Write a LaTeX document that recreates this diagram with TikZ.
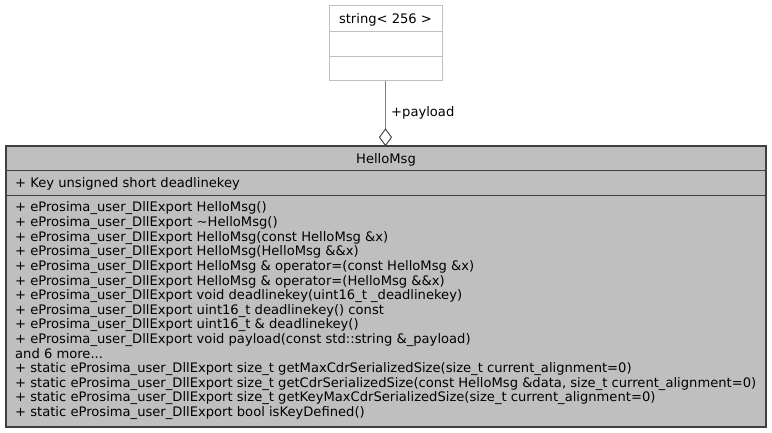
\documentclass[tikz,border=0pt]{standalone}
\usepackage{fontspec}
\setmainfont{DejaVu Sans}
\definecolor{mainfill}{HTML}{BFBFBF}
\definecolor{mainborder}{HTML}{404040}
\definecolor{lightborder}{HTML}{BFBFBF}
\definecolor{edgegray}{HTML}{808080}
\newlength\LL
\begin{document}
\settowidth\LL{\fontsize{10}{12}\selectfont + static eProsima\_user\_DllExport size\_t getCdrSerializedSize(const HelloMsg \&data, size\_t current\_alignment=0)}%
\pgfmathsetmacro\fs{7410/\LL}%
\begin{tikzpicture}[x=1pt,y=-1pt]
\tikzset{
  txt/.style={anchor=base west, inner sep=0pt, font=\fontsize{\fs}{\fs}\selectfont},
  ctxt/.style={anchor=base, inner sep=0pt, font=\fontsize{\fs}{\fs}\selectfont},
  topbox/.style={draw=lightborder, fill=white, line width=1pt},
  mainbox/.style={draw=mainborder, fill=mainfill, line width=1.2pt},
  sep/.style={draw=mainborder, line width=1pt},
  lsep/.style={draw=lightborder, line width=1pt},
}
\useasboundingbox (0,0) rectangle (772,433);
% top class box
\draw[topbox] (329,6) rectangle (442,81);
\coordinate (tb) at (385.5,81);
\draw[lsep] (329,32) -- (442,32);
\draw[lsep] (329,57) -- (442,57);
\node[ctxt] (str) at (385.5,23.5) {string< 256 >};
% main class box
\draw[mainbox] (6,146) rectangle (766,427);
\draw[sep] (6,171) -- (766,171);
\draw[sep] (6,196) -- (766,196);
\node[ctxt] (title) at (386,163.5) {HelloMsg};
\node[txt] (attr) at (15,187.5) {+ Key unsigned short deadlinekey};
% aggregation connector
\coordinate (dtop) at (385.5,129);
\coordinate (dbot) at (385.5,145.5);
\draw[edgegray, line width=1pt] (tb) -- (dtop);
\draw[mainborder, fill=white, line width=0.9pt] (dtop) -- (391.5,137.25) -- (dbot) -- (379.5,137.25) -- cycle;
\node[txt] (lbl) at (391,116.5) {+payload};
% methods
\foreach \t [count=\i] in {
 {+ eProsima\_user\_DllExport HelloMsg()},
 {+ eProsima\_user\_DllExport \textasciitilde HelloMsg()},
 {+ eProsima\_user\_DllExport HelloMsg(const HelloMsg \&x)},
 {+ eProsima\_user\_DllExport HelloMsg(HelloMsg \&\&x)},
 {+ eProsima\_user\_DllExport HelloMsg \& operator=(const HelloMsg \&x)},
 {+ eProsima\_user\_DllExport HelloMsg \& operator=(HelloMsg \&\&x)},
 {+ eProsima\_user\_DllExport void deadlinekey(uint16\_t \_deadlinekey)},
 {+ eProsima\_user\_DllExport uint16\_t deadlinekey() const},
 {+ eProsima\_user\_DllExport uint16\_t \& deadlinekey()},
 {+ eProsima\_user\_DllExport void payload(const std::string \&\_payload)},
 {and 6 more{...}},
 {+ static eProsima\_user\_DllExport size\_t getMaxCdrSerializedSize(size\_t current\_alignment=0)},
 {+ static eProsima\_user\_DllExport size\_t getCdrSerializedSize(const HelloMsg \&data, size\_t current\_alignment=0)},
 {+ static eProsima\_user\_DllExport size\_t getKeyMaxCdrSerializedSize(size\_t current\_alignment=0)},
 {+ static eProsima\_user\_DllExport bool isKeyDefined()}
}{
  \node[txt] (m\i) at (15,{207.5+4.5+(\i-1)*14.6}) {\t};
}
\end{tikzpicture}
\end{document}
